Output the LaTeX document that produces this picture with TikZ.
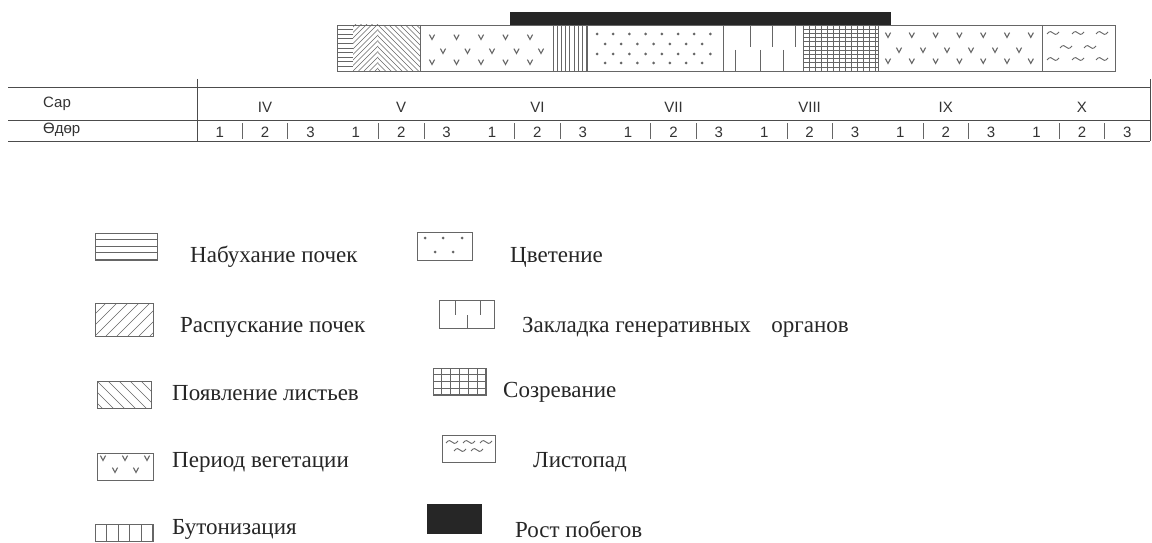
\documentclass[tikz,border=0pt]{standalone}
\usepackage{fontspec}
\setmainfont{Liberation Serif}
\newfontfamily\tabfont{Liberation Sans}
\newcommand\pH[5]{\begin{scope}\clip (#1,#2) rectangle (#3,#4);
  \foreach \k in {1,...,30}{\draw[pl] (#1,#2+\k*#5) -- (#3,#2+\k*#5);}\end{scope}}
\newcommand\pV[5]{\begin{scope}\clip (#1,#2) rectangle (#3,#4);
  \foreach \k in {1,...,30}{\draw[pl] (#1+\k*#5,#2) -- (#1+\k*#5,#4);}\end{scope}}
\newcommand\pNE[5]{\begin{scope}\clip (#1,#2) rectangle (#3,#4);
  \foreach \k in {-12,...,20}{\draw[pl] (#1+\k*#5,#4) -- ++(60,-60);}\end{scope}}
\newcommand\pNW[5]{\begin{scope}\clip (#1,#2) rectangle (#3,#4);
  \foreach \k in {-12,...,20}{\draw[pl] (#1+\k*#5,#2) -- ++(60,60);}\end{scope}}
\newcommand\vm[2]{\draw[pl,line width=1.1pt] (#1-2.6,#2-2.4) -- (#1,#2+2.4) -- (#1+2.6,#2-2.4);}
\newcommand\wm[2]{\draw[pl,line width=0.9pt] (#1-6,#2+1) .. controls (#1-3,#2-3) and (#1-1,#2-1) .. (#1,#2) .. controls (#1+1,#2+1) and (#1+3,#2+3) .. (#1+6,#2-1);}
\newcommand\dm[2]{\fill[black!60] (#1,#2) circle (1.5);}
\begin{document}
\begin{tikzpicture}[x=1pt,y=-1pt,
  pl/.style={draw=black!60,line width=0.7pt},
  bx/.style={draw=black!60,line width=0.9pt},
  lg/.style={font=\fontsize{23}{26}\selectfont,text=black!85,anchor=west,inner sep=0pt},
  tb/.style={font=\tabfont\fontsize{15}{17}\selectfont,text=black!80,inner sep=0pt},
  rule/.style={draw=black!70,line width=0.9pt}]
\useasboundingbox[fill=white] (0,0) rectangle (1152,543);
% ---------- top phenology bar ----------
\fill[black!85] (510,12) rectangle (891,25);
\pH{337}{25}{353}{71}{4.6}
\pNE{353}{25}{378}{71}{5.5}
\pNW{378}{25}{420}{71}{5.5}
\foreach \k in {0,...,4}{\vm{432+24.5*\k}{37}\vm{443+24.5*\k}{51}\vm{432+24.5*\k}{62}}
\pV{553}{25}{587}{71}{4.2}
\foreach \k in {0,...,7}{\dm{597+16.2*\k}{34}\dm{597+16.2*\k}{54}}
\foreach \k in {0,...,6}{\dm{605+16.2*\k}{44}\dm{605+16.2*\k}{63}}
\foreach \x in {750,772,795}{\draw[pl] (\x,25) -- (\x,47);}
\foreach \x in {735,760,783}{\draw[pl] (\x,50) -- (\x,71);}
\pH{803}{25}{878}{71}{4.2}
\pV{803}{25}{878}{71}{6}
\foreach \k in {0,...,6}{\vm{888+23.8*\k}{35}\vm{888+23.8*\k}{61}}
\foreach \k in {0,...,5}{\vm{899+24*\k}{50}}
\foreach \x in {1053,1078,1102}{\wm{\x}{33}\wm{\x}{59}}
\foreach \x in {1066,1090}{\wm{\x}{47}}
\draw[bx] (337,25) rectangle (1115,71);
\foreach \x in {420,553,587,723,803,878,1042}{\draw[bx] (\x,25) -- (\x,71);}
% ---------- table ----------
\draw[rule] (8,87) -- (1150,87);
\draw[rule] (8,120) -- (1150,120);
\draw[rule] (8,141) -- (1150,141);
\draw[rule] (197,79) -- (197,141);
\draw[rule] (1150,79) -- (1150,141);
\node[tb,anchor=west] (sar) at (43,104) {Сар};
\node[tb,anchor=west] (odor) at (43,130) {Өдөр};
\foreach \m [count=\i from 0] in {IV,V,VI,VII,VIII,IX,X}{
  \node[tb] (m\i) at (197+45.38*3*\i+45.38*1.5,107) {\m};
  \foreach \d [count=\j from 0] in {1,2,3}{
    \node[tb] (d\i\d) at (197+45.38*3*\i+45.38*\j+22.7,132) {\d};}
  \draw[pl] (197+45.38*3*\i+45.38,123) -- (197+45.38*3*\i+45.38,139);
  \draw[pl] (197+45.38*3*\i+90.76,123) -- (197+45.38*3*\i+90.76,139);
}
% ---------- legend, left column ----------
\pH{95}{233}{157}{260}{6.5}
\draw[bx] (95,233) rectangle (157,260);
\node[lg] (l1) at (190,257) {Набухание почек};
\pNE{95}{303}{153}{336}{11}
\draw[bx] (95,303) rectangle (153,336);
\node[lg] (l2) at (180,327) {Распускание почек};
\pNW{97}{381}{151}{408}{11}
\draw[bx] (97,381) rectangle (151,408);
\node[lg] (l3) at (172,393) {Появление листьев};
\foreach \x in {103,125,147}{\vm{\x}{458}}
\foreach \x in {115,136}{\vm{\x}{470}}
\draw[bx] (97,453) rectangle (153,480);
\node[lg] (l4) at (172,462) {Период вегетации};
\pV{95}{524}{153}{541}{11.5}
\draw[bx] (95,524) rectangle (153,541);
\node[lg] (l5) at (172,529) {Бутонизация};
% ---------- legend, right column ----------
\foreach \x in {425,443,462}{\dm{\x}{238}}
\foreach \x in {435,453}{\dm{\x}{252}}
\draw[bx] (417,232) rectangle (472,260);
\node[lg] (r1) at (510,257) {Цветение};
\draw[pl] (455,300) -- (455,315);
\draw[pl] (480,300) -- (480,315);
\draw[pl] (467,315) -- (467,328);
\draw[bx] (439,300) rectangle (494,328);
\node[lg] (r2) at (522,327) {Закладка генеративных\hspace{0.9em}органов};
\pH{433}{368}{486}{395}{6.7}
\pV{433}{368}{486}{395}{8.8}
\draw[bx] (433,368) rectangle (486,395);
\node[lg] (r3) at (503,392) {Созревание};
\foreach \x in {452,469,486}{\wm{\x}{442}}
\foreach \x in {460,477}{\wm{\x}{450}}
\draw[bx] (442,435) rectangle (495,462);
\node[lg] (r4) at (533,462) {Листопад};
\fill[black!85] (427,504) rectangle (482,534);
\node[lg] (r5) at (515,529) {Рост побегов};
\end{tikzpicture}
\end{document}
